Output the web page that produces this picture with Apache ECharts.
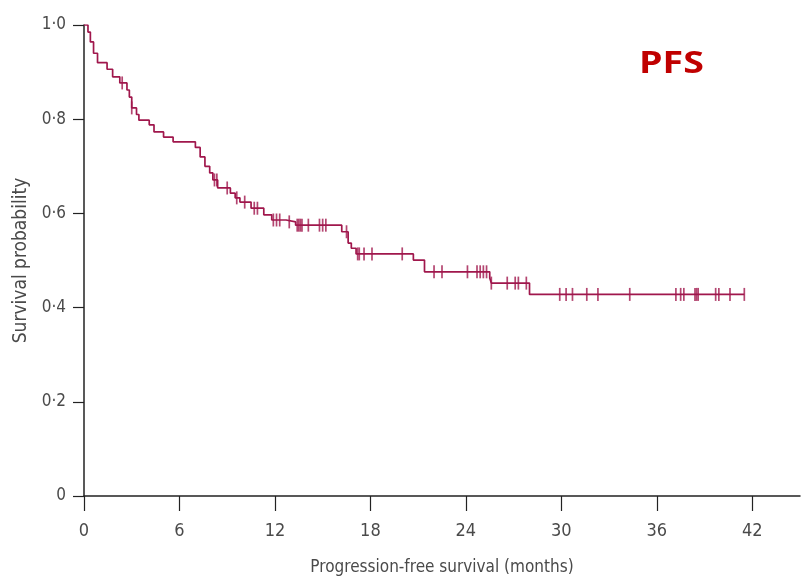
<!DOCTYPE html>
<html><head><meta charset="utf-8">
<script src="https://cdn.jsdelivr.net/npm/echarts@6/dist/echarts.min.js"></script>
<style>html,body{margin:0;padding:0;background:#fff}#c{width:802px;height:583px}</style>
</head><body><div id="c"></div>
<script>
// KM curve: event times (months) and survival after each drop
const eventTimes = [0, 0.25, 0.4, 0.6, 0.85, 1.45, 1.8, 2.25, 2.7, 2.85, 3.0, 3.3, 3.45, 4.1, 4.4, 5.0, 5.6, 7.0, 7.3, 7.6, 7.9, 8.1, 8.4, 9.2, 9.5, 9.8, 10.5, 11.3, 11.8, 12.7, 13.3, 16.2, 16.6, 16.8, 17.1, 20.7, 21.4, 25.5, 25.6, 28.0, 41.5];
const survival   = [1.0, 0.985, 0.964, 0.94, 0.92, 0.906, 0.89, 0.877, 0.862, 0.847, 0.824, 0.81, 0.798, 0.788, 0.773, 0.762, 0.752, 0.74, 0.72, 0.70, 0.686, 0.671, 0.654, 0.643, 0.633, 0.624, 0.611, 0.597, 0.586, 0.582, 0.575, 0.561, 0.537, 0.526, 0.514, 0.501, 0.476, 0.463, 0.452, 0.428, 0.428];
// censored observations
const censorTimes = [2.4, 3.0, 8.2, 8.35, 9.0, 9.6, 10.1, 10.7, 10.9, 11.9, 12.1, 12.3, 12.9, 13.4, 13.5, 13.6, 13.7, 14.1, 14.8, 15.0, 15.2, 16.5, 17.2, 17.3, 17.6, 18.1, 20.0, 22.0, 22.5, 24.1, 24.7, 24.9, 25.1, 25.3, 25.6, 26.6, 27.1, 27.3, 27.8, 29.9, 30.3, 30.7, 31.6, 32.3, 34.3, 37.2, 37.5, 37.7, 38.4, 38.5, 38.6, 39.7, 39.9, 40.6, 41.5];
const censorSurv  = [0.877, 0.824, 0.671, 0.671, 0.654, 0.633, 0.624, 0.611, 0.611, 0.586, 0.586, 0.586, 0.582, 0.575, 0.575, 0.575, 0.575, 0.575, 0.575, 0.575, 0.575, 0.561, 0.514, 0.514, 0.514, 0.514, 0.514, 0.476, 0.476, 0.476, 0.476, 0.476, 0.476, 0.476, 0.452, 0.452, 0.452, 0.452, 0.452, 0.428, 0.428, 0.428, 0.428, 0.428, 0.428, 0.428, 0.428, 0.428, 0.428, 0.428, 0.428, 0.428, 0.428, 0.428, 0.428];
const xTicks = [0, 6, 12, 18, 24, 30, 36, 42];
const yTicks = [0, 0.2, 0.4, 0.6, 0.8, 1.0];

const font = "'Liberation Sans Narrow','DejaVu Sans Condensed',sans-serif";
const curveColor = '#a0174c';
const chart = echarts.init(document.getElementById('c'), null, {renderer: 'canvas'});
chart.setOption({
  animation: false,
  graphic: [{
    type: 'text', left: 639, top: 49, scaleX: 1.25,
    style: {text: 'PFS', fill: '#c00000', font: "bold 30px 'Open Sans', sans-serif"}
  }],
  grid: {left: 84, right: 2, top: 25, bottom: 87, containLabel: false},
  xAxis: {
    type: 'value', min: 0, max: 45,
    axisLine: {lineStyle: {color: '#222', width: 1.5}},
    axisTick: {customValues: xTicks, length: 15, lineStyle: {color: '#222', width: 1.2}},
    axisLabel: {customValues: xTicks, color: '#4a4a4a', fontSize: 18, fontFamily: font, margin: 26},
    splitLine: {show: false},
    name: 'Progression-free survival (months)', nameLocation: 'middle', nameGap: 63,
    nameTextStyle: {color: '#4a4a4a', fontSize: 17, fontFamily: font}
  },
  yAxis: {
    type: 'value', min: 0, max: 1, interval: 0.2,
    axisLine: {show: true, lineStyle: {color: '#222', width: 1.5}},
    axisTick: {show: true, length: 11, lineStyle: {color: '#222', width: 1.2}},
    axisLabel: {color: '#4a4a4a', fontSize: 17, fontFamily: font, margin: 18,
      formatter: v => v === 0 ? '0' : v.toFixed(1).replace('.', '·')},
    splitLine: {show: false},
    name: 'Survival probability', nameLocation: 'middle', nameGap: 53, nameRotate: 90,
    nameTextStyle: {color: '#4a4a4a', fontSize: 19, fontFamily: font}
  },
  series: [
    {
      type: 'line', step: 'end', showSymbol: false,
      data: eventTimes.map((t, i) => [t, survival[i]]),
      lineStyle: {color: curveColor, width: 1.7}
    },
    {
      type: 'scatter', symbol: 'rect', symbolSize: [1.7, 13],
      data: censorTimes.map((t, i) => [t, censorSurv[i]]),
      itemStyle: {color: curveColor}
    }
  ]
});
</script></body></html>
